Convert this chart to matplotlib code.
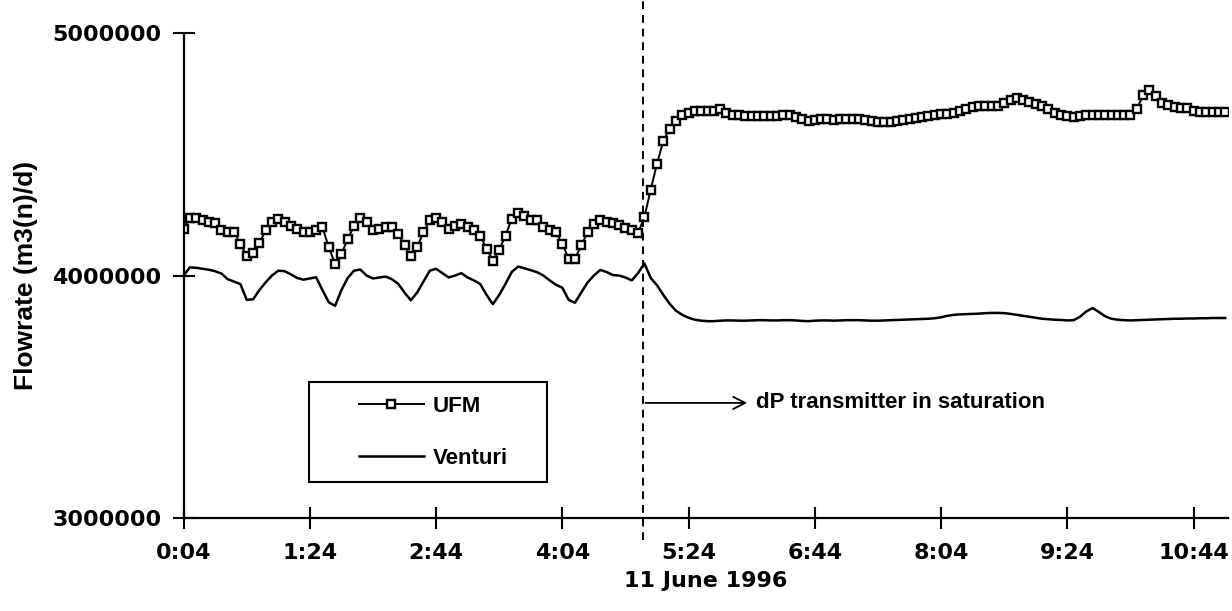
# flowrate_ufm_venturi.py

import numpy as np
import matplotlib.pyplot as plt
from matplotlib.patches import Rectangle

# Flowrate readings, million m3(n)/d, one sample every 4 minutes from 0:04
ufm_m = [
    4.193, 4.237, 4.237, 4.227, 4.220, 4.216, 4.186, 4.179, 4.179, 4.131,
    4.079, 4.092, 4.135, 4.186, 4.220, 4.234, 4.220, 4.203, 4.190, 4.179,
    4.179, 4.189, 4.200, 4.117, 4.048, 4.087, 4.152, 4.203, 4.237, 4.220,
    4.189, 4.193, 4.200, 4.200, 4.172, 4.124, 4.079, 4.117, 4.179, 4.227,
    4.237, 4.220, 4.193, 4.203, 4.211, 4.200, 4.189, 4.165, 4.110, 4.062,
    4.106, 4.165, 4.234, 4.257, 4.244, 4.227, 4.230, 4.200, 4.186, 4.179,
    4.131, 4.069, 4.069, 4.124, 4.179, 4.213, 4.227, 4.222, 4.216, 4.207,
    4.197, 4.189, 4.175, 4.241, 4.354, 4.461, 4.555, 4.606, 4.638, 4.661,
    4.672, 4.679, 4.679, 4.679, 4.680, 4.685, 4.670, 4.662, 4.660, 4.658,
    4.657, 4.657, 4.657, 4.658, 4.658, 4.660, 4.660, 4.655, 4.645, 4.638,
    4.643, 4.647, 4.647, 4.640, 4.645, 4.647, 4.647, 4.646, 4.643, 4.638,
    4.635, 4.633, 4.635, 4.638, 4.642, 4.645, 4.648, 4.652, 4.656, 4.660,
    4.665, 4.668, 4.670, 4.678, 4.688, 4.695, 4.697, 4.697, 4.697, 4.700,
    4.710, 4.722, 4.730, 4.724, 4.716, 4.708, 4.700, 4.688, 4.672, 4.663,
    4.659, 4.655, 4.657, 4.660, 4.660, 4.661, 4.663, 4.661, 4.660, 4.661,
    4.662, 4.685, 4.744, 4.767, 4.740, 4.712, 4.705, 4.694, 4.692, 4.690,
    4.678, 4.675, 4.675, 4.675, 4.675, 4.675,
]
venturi_m = [
    4.000, 4.034, 4.032, 4.028, 4.024, 4.018, 4.008, 3.985, 3.975, 3.965,
    3.900, 3.902, 3.940, 3.972, 4.000, 4.020, 4.018, 4.005, 3.990, 3.983,
    3.988, 3.993, 3.940, 3.890, 3.875, 3.940, 3.990, 4.020, 4.025, 4.000,
    3.988, 3.992, 3.996, 3.985, 3.966, 3.930, 3.898, 3.930, 3.975, 4.020,
    4.028, 4.010, 3.992, 4.000, 4.010, 3.992, 3.980, 3.965, 3.920, 3.882,
    3.920, 3.966, 4.015, 4.037, 4.030, 4.022, 4.014, 4.000, 3.980, 3.962,
    3.950, 3.900, 3.888, 3.930, 3.972, 4.000, 4.023, 4.015, 4.002, 4.000,
    3.992, 3.980, 4.010, 4.050, 3.990, 3.960, 3.920, 3.884, 3.855, 3.838,
    3.826, 3.818, 3.814, 3.812, 3.812, 3.814, 3.815, 3.815, 3.814, 3.814,
    3.815, 3.816, 3.816, 3.815, 3.815, 3.816, 3.816, 3.815, 3.813, 3.812,
    3.814, 3.815, 3.815, 3.814, 3.815, 3.816, 3.816, 3.816, 3.815, 3.814,
    3.814, 3.815, 3.816, 3.817, 3.818, 3.819, 3.820, 3.821, 3.822, 3.824,
    3.828, 3.834, 3.838, 3.840, 3.841, 3.842, 3.843, 3.845, 3.846, 3.846,
    3.845, 3.842, 3.838, 3.834, 3.830, 3.826, 3.822, 3.820, 3.818, 3.817,
    3.815, 3.816, 3.830, 3.852, 3.866, 3.850, 3.832, 3.822, 3.818, 3.816,
    3.815, 3.816, 3.817, 3.818, 3.819, 3.820, 3.821, 3.822, 3.822, 3.823,
    3.823, 3.824, 3.824, 3.825, 3.825, 3.825,
]
tick_minutes = [4, 84, 164, 244, 324, 404, 484, 564, 644]
y_ticks = [3000000, 4000000, 5000000]
saturation_minute = 295

minutes = 4 + 4 * np.arange(len(ufm_m))
ufm = np.array(ufm_m) * 1e6
venturi = np.array(venturi_m) * 1e6

fig = plt.figure(figsize=(12.32, 6.11), dpi=100)
ax = fig.add_axes([0.149, 0.152, 0.848, 0.794])

ax.plot(minutes, ufm, color='black', lw=1.4, marker='s', markersize=5.5,
        markerfacecolor='white', markeredgecolor='black', markeredgewidth=1.7,
        label='UFM')
ax.plot(minutes, venturi, color='black', lw=1.8, label='Venturi')

ax.axvline(saturation_minute, ymin=-0.045, ymax=1.065, color='black', lw=1.4,
           linestyle=(0, (4, 3)), clip_on=False)
ax.annotate('', xy=(363, 3.475e6), xytext=(saturation_minute, 3.475e6),
            arrowprops=dict(arrowstyle='->', color='black', lw=1.3,
                            mutation_scale=22))
ax.text(367, 3.475e6, 'dP transmitter in saturation', fontsize=16,
        fontweight='bold', family='Liberation Sans', va='center')

ax.set_xlim(4, 666)
ax.set_ylim(3000000, 5000000)
ax.set_xticks(tick_minutes)
ax.set_xticklabels([f'{m // 60}:{m % 60:02d}' for m in tick_minutes])
ax.set_yticks(y_ticks)
ax.set_yticklabels([str(v) for v in y_ticks])
ax.tick_params(direction='inout', length=16, width=1.5, labelsize=16, pad=8)
ax.tick_params(axis='x', pad=10)
for lab in ax.get_xticklabels() + ax.get_yticklabels():
    lab.set_fontweight('bold')

for side in ['top', 'right']:
    ax.spines[side].set_visible(False)
for side in ['left', 'bottom']:
    ax.spines[side].set_linewidth(1.6)

ax.set_xlabel('11 June 1996', fontsize=16, fontweight='bold', labelpad=6)
ax.set_ylabel('Flowrate (m3(n)/d)', fontsize=19, fontweight='bold',
              family='Liberation Sans', labelpad=10)

ax.add_patch(Rectangle((0.120, 0.074), 0.228, 0.206, transform=ax.transAxes,
                       fill=False, lw=1.5, edgecolor='black', clip_on=False))
ax.legend(loc='upper left', bbox_to_anchor=(0.168, 0.252), frameon=False,
          borderpad=0, borderaxespad=0, handlelength=2.9, handletextpad=0.4,
          labelspacing=1.4, prop={'family': 'Liberation Sans', 'weight': 'bold',
                                  'size': 16})

fig.savefig('out.png', dpi=100)
